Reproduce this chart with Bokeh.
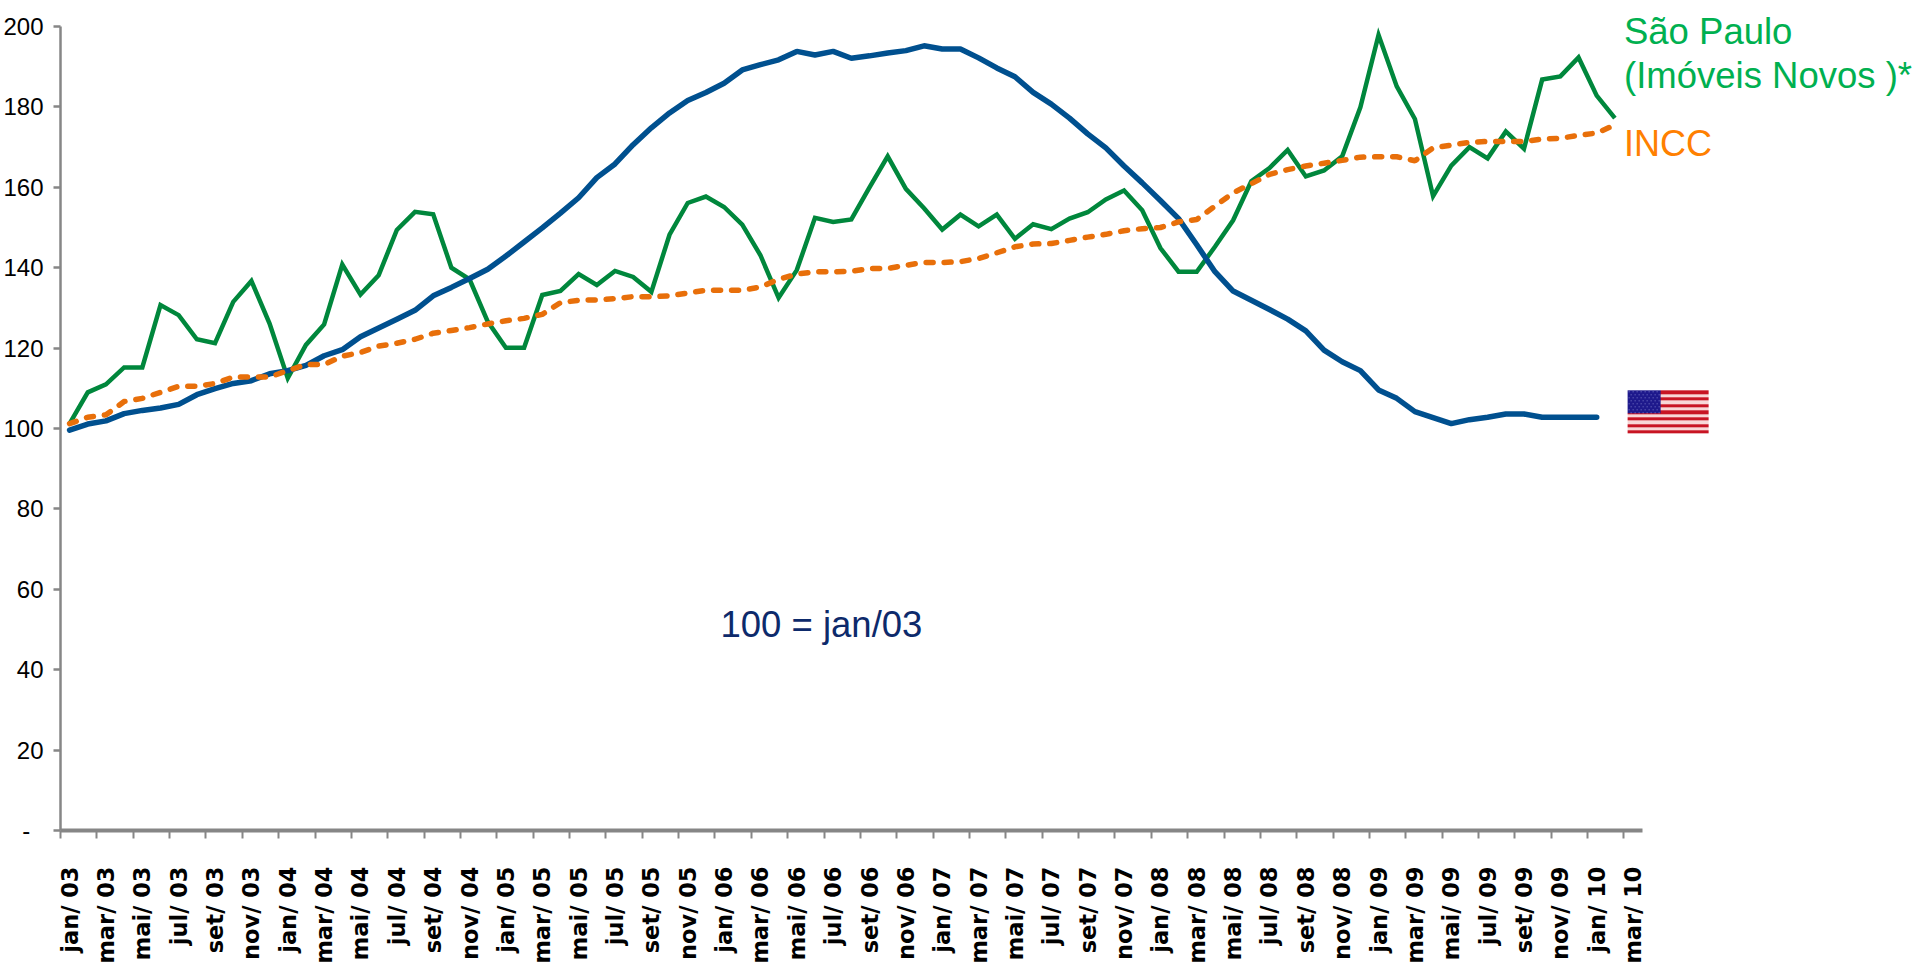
import math
import numpy as np
from bokeh.core.properties import value
from bokeh.embed import file_html
from bokeh.models import FixedTicker, Range1d
from bokeh.plotting import figure
from bokeh.resources import INLINE

months = ["jan", "mar", "mai", "jul", "set", "nov"]
years = ["03", "04", "05", "06", "07", "08", "09"]
tick_labels = [f"{m}/ {y}" for y in years for m in months] + ["jan/ 10", "mar/ 10"]

sao_paulo = [101.2, 109.0, 111.0, 115.2, 115.2, 130.7, 128.2, 122.2, 121.2, 131.5, 136.7, 126.1,
             112.5, 120.8, 125.9, 140.8, 133.3, 138.1, 149.4, 153.9, 153.3, 140.0, 137.1, 126.6,
             120.1, 120.1, 133.2, 134.2, 138.4, 135.7, 139.2, 137.7, 134.0, 148.2, 156.1, 157.7,
             155.1, 150.7, 143.1, 132.5, 139.4, 152.4, 151.4, 152.0, 160.0, 167.7, 159.6, 154.8,
             149.5, 153.2, 150.3, 153.2, 147.2, 150.8, 149.6, 152.2, 153.8, 157.0, 159.2, 154.3,
             144.9, 139.0, 139.0, 145.2, 151.8, 161.5, 164.8, 169.3, 162.7, 164.2, 167.7, 179.9,
             197.9, 185.1, 177.0, 157.8, 165.4, 170.0, 167.2, 173.9, 169.6, 186.8, 187.6, 192.3,
             182.8, 177.2]
incc = [101.2, 102.8, 103.4, 106.7, 107.5, 109.0, 110.5, 110.5, 111.2, 112.8, 112.8, 112.8,
        114.4, 115.9, 115.9, 118.0, 118.9, 120.5, 121.2, 122.2, 123.7, 124.4, 125.1, 126.0,
        126.8, 127.4, 128.4, 131.3, 131.9, 132.0, 132.3, 132.8, 132.8, 133.0, 133.7, 134.4,
        134.4, 134.4, 135.2, 137.1, 138.4, 139.0, 139.0, 139.1, 139.8, 139.8, 140.6, 141.3,
        141.3, 141.5, 142.3, 143.7, 145.2, 145.9, 146.0, 146.8, 147.6, 148.3, 149.2, 149.7,
        150.0, 151.4, 152.0, 155.3, 158.6, 160.9, 163.2, 164.4, 165.3, 166.0, 166.7, 167.5,
        167.6, 167.6, 166.6, 169.8, 170.5, 171.2, 171.4, 171.4, 171.4, 172.0, 172.2, 172.9,
        173.5, 175.5]
eua = [99.6, 101.1, 101.9, 103.7, 104.5, 105.1, 106.0, 108.4, 109.9, 111.2, 111.9, 113.6,
       114.4, 115.7, 118.1, 119.6, 122.8, 125.0, 127.2, 129.4, 133.0, 135.1, 137.3, 139.6,
       142.9, 146.4, 149.9, 153.6, 157.4, 162.4, 165.8, 170.6, 174.8, 178.5, 181.6, 183.6,
       185.9, 189.2, 190.5, 191.7, 193.8, 192.9, 193.8, 192.1, 192.7, 193.4, 194.0, 195.2,
       194.4, 194.4, 192.2, 189.7, 187.5, 183.6, 180.7, 177.2, 173.3, 169.8, 165.3, 161.1,
       156.7, 152.2, 145.7, 139.0, 134.2, 131.9, 129.6, 127.2, 124.3, 119.5, 116.6, 114.4,
       109.6, 107.5, 104.2, 102.7, 101.2, 102.2, 102.8, 103.6, 103.6, 102.8, 102.8, 102.8,
       102.8]

W, H = 1914, 967
LEFT = 60          # canvas px to the y axis
AX_BOTTOM = 137    # canvas px under the x axis
MONTH_PX = 18.18
UNIT_PX = 4.02
frame_w = W - LEFT
frame_h = H - AX_BOTTOM

p = figure(width=W, height=H, output_backend="svg", toolbar_location=None,
           x_range=Range1d(-0.5, -0.5 + frame_w / MONTH_PX),
           y_range=Range1d(0, frame_h / UNIT_PX),
           min_border_left=LEFT, min_border_right=0, min_border_top=0, min_border_bottom=AX_BOTTOM)
p.outline_line_color = None
p.grid.visible = False
p.background_fill_color = "white"

GRAY = "#868686"
xa = p.xaxis[0]
tick_pos = list(range(0, 2 * len(tick_labels), 2))
xa.ticker = FixedTicker(ticks=tick_pos, minor_ticks=[t - 0.5 for t in tick_pos])
xa.major_label_overrides = dict(zip(tick_pos, tick_labels))
xa.bounds = (-0.5, 86.5)
xa.axis_line_color = GRAY
xa.axis_line_width = 4
xa.major_tick_line_color = None
xa.major_tick_in = 0
xa.major_tick_out = 0
xa.minor_tick_line_color = GRAY
xa.minor_tick_line_width = 2
xa.minor_tick_in = 0
xa.minor_tick_out = 8
xa.major_label_orientation = math.pi / 2
xa.major_label_standoff = 28
xa.major_label_text_font = "DejaVu Sans"
xa.major_label_text_font_style = "bold"
xa.major_label_text_font_size = "22.5px"
xa.major_label_text_color = "black"

ya = p.yaxis[0]
y_ticks = list(range(0, 201, 20))
ya.ticker = FixedTicker(ticks=y_ticks, minor_ticks=[])
ya.major_label_overrides = {0: "-\u00a0\u00a0"}
ya.bounds = (0, 200)
ya.axis_line_color = GRAY
ya.axis_line_width = 2.5
ya.major_tick_line_color = GRAY
ya.major_tick_line_width = 2.5
ya.major_tick_in = 0
ya.major_tick_out = 7
ya.major_label_standoff = 10
ya.major_label_text_font = "Liberation Sans"
ya.major_label_text_font_size = "24px"
ya.major_label_text_color = "black"

p.line(list(range(len(sao_paulo))), sao_paulo, line_color="#00873c", line_width=4.5, line_join="miter")
p.line(list(range(len(eua))), eua, line_color="#00508f", line_width=5.5, line_cap="round")
p.line(list(range(len(incc))), incc, line_color="#e86f0a", line_width=5.5, line_cap="round",
       line_dash="7 11")

FONT = value("Liberation Sans")
p.text([85.5], [198.8], text=["São Paulo"], text_color="#00b050", text_font=FONT,
       text_font_size="36.5px", text_baseline="alphabetic")
p.text([85.5], [187.9], text=["(Imóveis Novos )*"], text_color="#00b050", text_font=FONT,
       text_font_size="36.5px", text_baseline="alphabetic")
p.text([85.5], [171.0], text=["INCC"], text_color="#ff8000", text_font=FONT,
       text_font_size="36px", text_baseline="alphabetic")
p.text([35.8], [51.2], text=["100 = jan/03"], text_color="#0d2a6b", text_font=FONT,
       text_font_size="36.5px", text_baseline="alphabetic")

# flag picture, top row first in the array, then flipped for the image glyph
fh, fw = 43, 81
flag = np.zeros((fh, fw, 4), dtype=np.uint32)
for r in range(fh):
    stripe = int(r * 13 / fh)
    col = (200, 20, 35) if stripe % 2 == 0 else (248, 215, 215)
    flag[r, :] = (*col, 255)
cw, ch = 33, 23
for r in range(ch):
    for c in range(cw):
        star = (r % 3 == 1) and ((c + (r // 3) % 2 * 2) % 4 == 1)
        flag[r, c] = (120, 120, 200, 255) if star else (30, 25, 140, 255)
rgba = (flag[:, :, 0] | flag[:, :, 1] << 8 | flag[:, :, 2] << 16 | flag[:, :, 3] << 24)
p.image_rgba(image=[rgba[::-1].astype(np.uint32)], x=85.7, y=98.8, dw=fw / MONTH_PX, dh=fh / UNIT_PX)

open("out.html", "w").write(file_html(p, INLINE))
